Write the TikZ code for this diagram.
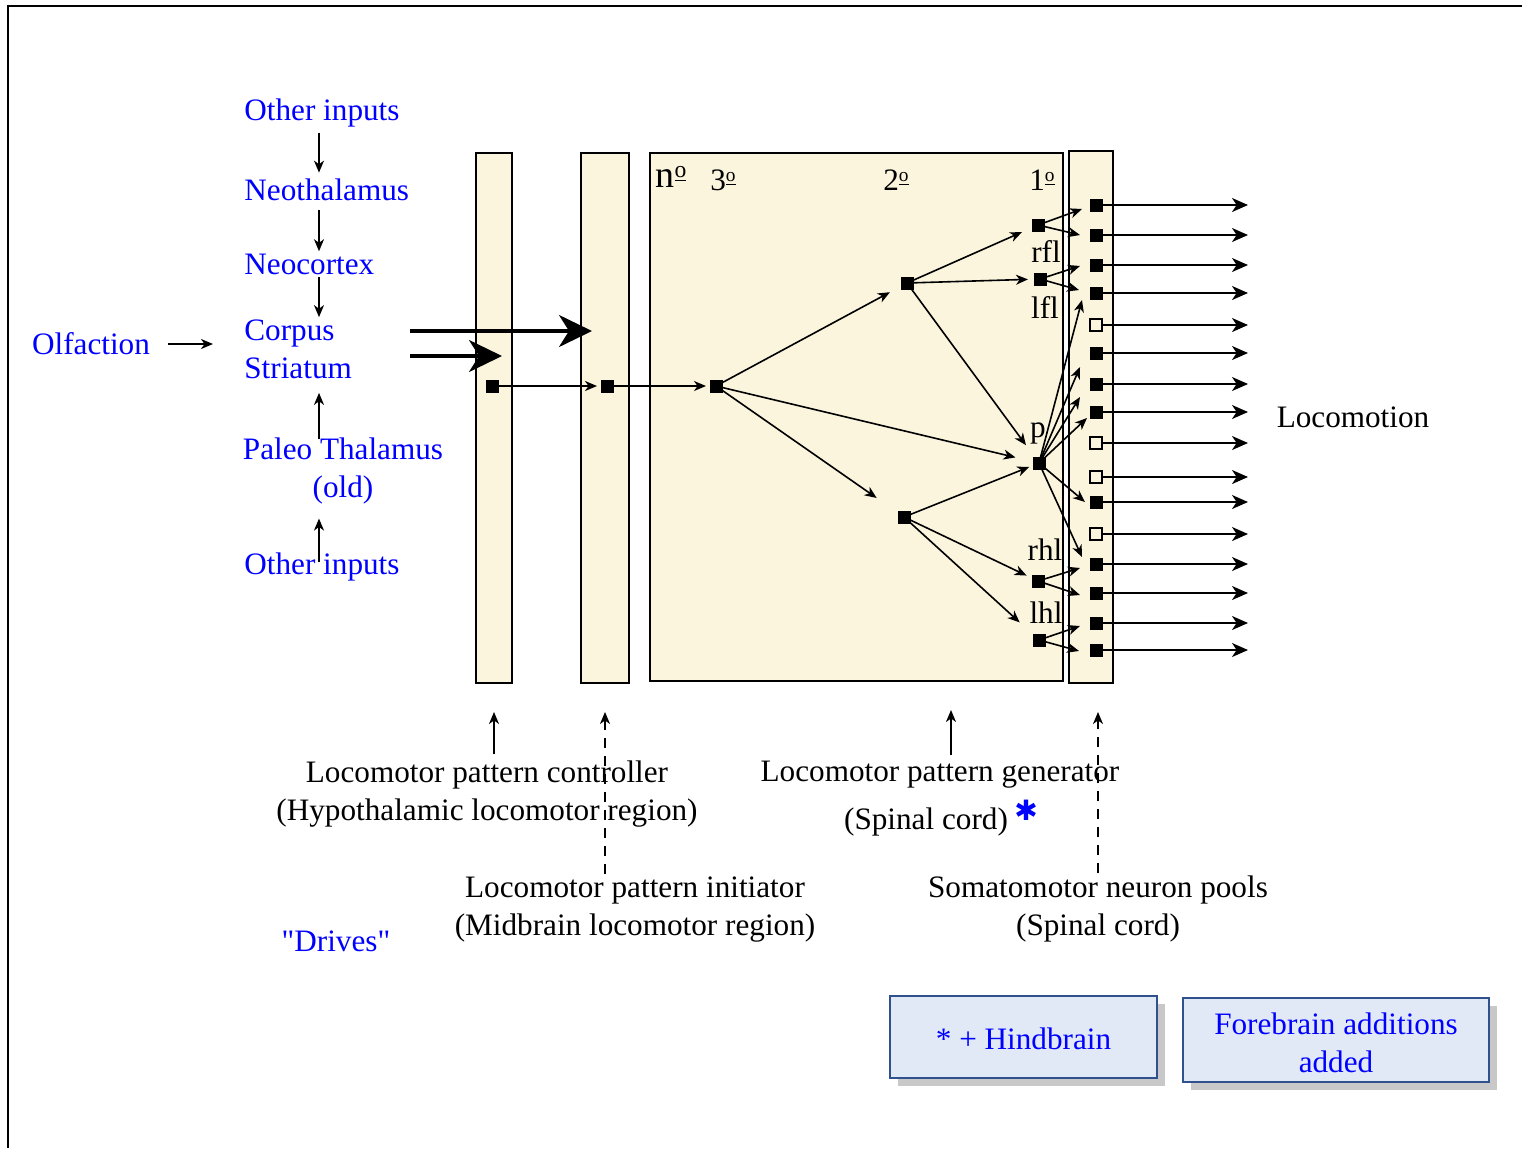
\documentclass[tikz,border=0pt]{standalone}
\usepackage{fontspec}
\setmainfont{Liberation Serif}
\newfontfamily\symfont{DejaVu Sans}
\usetikzlibrary{arrows.meta,calc,shadows}
\definecolor{cream}{RGB}{251,245,222}
\definecolor{boxblue}{RGB}{225,233,247}
\definecolor{boxedge}{RGB}{47,82,143}
\definecolor{shadegray}{RGB}{200,200,200}
\definecolor{txtblue}{RGB}{0,0,255}
\newcommand\myfs{\fontsize{15.6}{19}\selectfont}
\newcommand\myord{\raisebox{0.62ex}{\fontsize{0.62em}{1em}\selectfont\underline{o}}}
\begin{document}
\begin{tikzpicture}[x=0.5pt,y=-0.5pt,
  every node/.style={font=\myfs},
  col/.style={draw=black,line width=1pt,fill=cream,inner sep=0pt},
  sq/.style={draw=black,fill=black,minimum size=6pt,inner sep=0pt,outer sep=0pt},
  osq/.style={draw=black,fill=cream,line width=1pt,minimum size=6pt,inner sep=0pt,outer sep=0pt},
  arr/.style={-{Stealth[length=6pt,width=5pt,inset=1.8pt]},line width=0.8pt},
  outarr/.style={-{Stealth[length=8pt,width=7pt,inset=2.3pt]},line width=0.9pt},
  bigarr/.style={-{Stealth[length=16.5pt,width=16pt,inset=5pt]},line width=1.6pt},
  dasharr/.style={arr,dash pattern=on 5pt off 4pt},
  blu/.style={text=txtblue,inner sep=0pt},
  lbl/.style={inner sep=0pt},
  bbox/.style={draw=boxedge,line width=1pt,fill=boxblue,text=txtblue,inner sep=0pt,
    general shadow={fill=shadegray,shadow xshift=4pt,shadow yshift=-4pt}},
]
\useasboundingbox (0,0) rectangle (1522,1148);
\draw[line width=1.3pt] (8,1148) -- (8,6) -- (1522,6);

% columns
\node[col,minimum width=18pt,minimum height=265pt] (bA) at (494,418) {};
\node[col,minimum width=24pt,minimum height=265pt] (bB) at (605,418) {};
\node[col,minimum width=206.5pt,minimum height=264pt] (bC) at (856.5,417) {};
\node[col,minimum width=22pt,minimum height=266pt] (bD) at (1091,417) {};

% box C labels
\node[lbl,font=\fontsize{19}{22}\selectfont] (nlab) at (671,177) {n\myord};
\node[lbl] (l3) at (723,180) {3\myord};
\node[lbl] (l2) at (896,180) {2\myord};
\node[lbl] (l1) at (1042,180) {1\myord};
\node[lbl] (rflt) at (1046,252) {rfl};
\node[lbl] (lflt) at (1045,308) {lfl};
\node[lbl] (pt0) at (1038,433) {p};
\node[lbl] (rhlt) at (1045,550) {rhl};
\node[lbl] (lhlt) at (1046,613) {lhl};

% left side
\node[blu,anchor=west] (oi1) at (244,113) {Other inputs};
\node[blu,anchor=west] (neo) at (244,190) {Neothalamus};
\node[blu,anchor=west] (ncx) at (244,264) {Neocortex};
\node[blu,anchor=west,align=left] (cs) at (244,349) {Corpus\\Striatum};
\node[blu,align=center] (pal) at (343,471) {Paleo Thalamus\\(old)};
\node[blu,anchor=west] (oi2) at (244,567) {Other inputs};
\node[blu] (olf) at (91,344) {Olfaction};
\coordinate (cx) at (319,0);

\draw[arr,shorten <=2.5pt,shorten >=3pt] (oi1.south -| cx) -- (neo.north -| cx);
\draw[arr,shorten <=4.5pt,shorten >=1pt] (neo.south -| cx) -- (ncx.north -| cx);
\draw[arr,shorten <=1pt,shorten >=1pt] (ncx.south -| cx) -- (cs.north -| cx);
\draw[arr,shorten <=-1pt,shorten >=7pt] (pal.north -| cx) -- (cs.south -| cx);
\draw[arr,shorten <=-5pt,shorten >=7pt] (oi2.north -| cx) -- (pal.south -| cx);
\draw[arr,shorten <=9pt,shorten >=15.5pt] (olf.east) -- (olf.east -| cs.west);

% big arrows
\coordinate (ta1) at (410,331); \coordinate (ta2) at (592,331);
\coordinate (tb1) at (410,356); \coordinate (tb2) at (502,356);
\draw[bigarr] (ta1) -- (ta2);
\draw[bigarr] (tb1) -- (tb2);

% inner squares
\node[sq] (s1) at (492,386) {};
\node[sq] (s2) at (607,386) {};
\node[sq] (s3) at (716,386) {};
\node[sq] (s4) at (907,283) {};
\node[sq] (s5) at (904,517) {};
\node[sq] (rfl) at (1038,225) {};
\node[sq] (lfl) at (1040,279) {};
\node[sq] (p) at (1039,463) {};
\node[sq] (rhl) at (1038,581) {};
\node[sq] (lhl) at (1039,640) {};

\draw[arr,shorten >=2pt] (s1) -- (s2);
\draw[arr,shorten >=2pt] (s2) -- (s3);
\draw[arr,shorten >=6.3pt] (s3) -- (s4);
\draw[arr,shorten >=9pt] (s3) -- (p);
\draw[arr,shorten >=13pt] (s3) -- (s5);
\draw[arr,shorten >=5.5pt] (s4) -- (rfl);
\draw[arr,shorten >=3pt] (s4) -- (lfl);
\draw[arr,shorten >=7.3pt] (s4) -- (p);
\draw[arr,shorten >=2pt] (s5) -- (p);
\draw[arr,shorten >=3pt] (s5) -- (rhl);
\draw[arr,shorten >=9pt] (s5) -- (lhl);

% column D squares and outputs
\coordinate (endx) at (1248,0);
\foreach \y/\s [count=\i] in {205/sq,235/sq,265/sq,293/sq,325/osq,353/sq,384/sq,412/sq,443/osq,477/osq,502/sq,534/osq,564/sq,593/sq,623/sq,650/sq}{
  \node[\s] (c\i) at (1096,\y) {};
  \draw[outarr] (c\i.east) -- (c\i -| endx);
}

% fan-out tips
\coordinate (t1) at (1082,209); \coordinate (t2) at (1080,235);
\coordinate (t3) at (1080,266); \coordinate (t4) at (1079,290);
\coordinate (t5) at (1082,300); \coordinate (t6) at (1080,367);
\coordinate (t7) at (1080,397); \coordinate (t8) at (1087,418);
\coordinate (t9) at (1085,502); \coordinate (t10) at (1082,557);
\coordinate (t11) at (1080,568); \coordinate (t12) at (1080,595);
\coordinate (t13) at (1080,626); \coordinate (t14) at (1079,651);
\draw[arr] (rfl) -- (t1); \draw[arr] (rfl) -- (t2);
\draw[arr] (lfl) -- (t3); \draw[arr] (lfl) -- (t4);
\foreach \t in {t5,t6,t7,t8,t9,t10} \draw[arr] (p) -- (\t);
\draw[arr] (rhl) -- (t11); \draw[arr] (rhl) -- (t12);
\draw[arr] (lhl) -- (t13); \draw[arr] (lhl) -- (t14);

\node[lbl] (loco) at (1353,417) {Locomotion};

% bottom labels
\node[lbl] (ctrl) at (487,775) {Locomotor pattern controller};
\node[lbl] (ctrl2) at (487,813) {(Hypothalamic locomotor region)};
\node[lbl] (init) at (635,890) {Locomotor pattern initiator};
\node[lbl] (init2) at (635,928) {(Midbrain locomotor region)};
\node[lbl] (gen) at (940,775) {Locomotor pattern generator};
\node[lbl] (gen2) at (926,822) {(Spinal cord)};
\node[text=txtblue,font=\symfont\fontsize{14}{14}\selectfont,inner sep=0pt] (ast) at (1026,810) {✱};
\node[lbl] (soma) at (1098,890) {Somatomotor neuron pools};
\node[lbl] (soma2) at (1098,928) {(Spinal cord)};
\node[blu] (drv) at (336,941) {\textquotedbl Drives\textquotedbl};

\coordinate (gx) at (951,0);
\coordinate (sx) at (1098,0);
\draw[arr,shorten <=3pt,shorten >=14pt] (bA.south |- ctrl.north) -- (bA.south);
\draw[dasharr,shorten <=1pt,shorten >=14pt] (bB.south |- init.north) -- (bB.south);
\draw[arr,shorten <=3pt,shorten >=14pt] (gen.north -| gx) -- (bC.south -| gx);
\draw[dasharr,shorten <=1pt,shorten >=14pt] (soma.north -| sx) -- (bD.south -| sx);

% legend boxes
\node[bbox,minimum width=133.5pt,minimum height=41pt] (hb) at (1023.5,1037) {\rule{0pt}{12.5pt}* + Hindbrain};
\node[bbox,minimum width=153pt,minimum height=42pt,align=center] (fb) at (1336,1040) {\rule{0pt}{13.8pt}Forebrain additions\\added};
\end{tikzpicture}
\end{document}
